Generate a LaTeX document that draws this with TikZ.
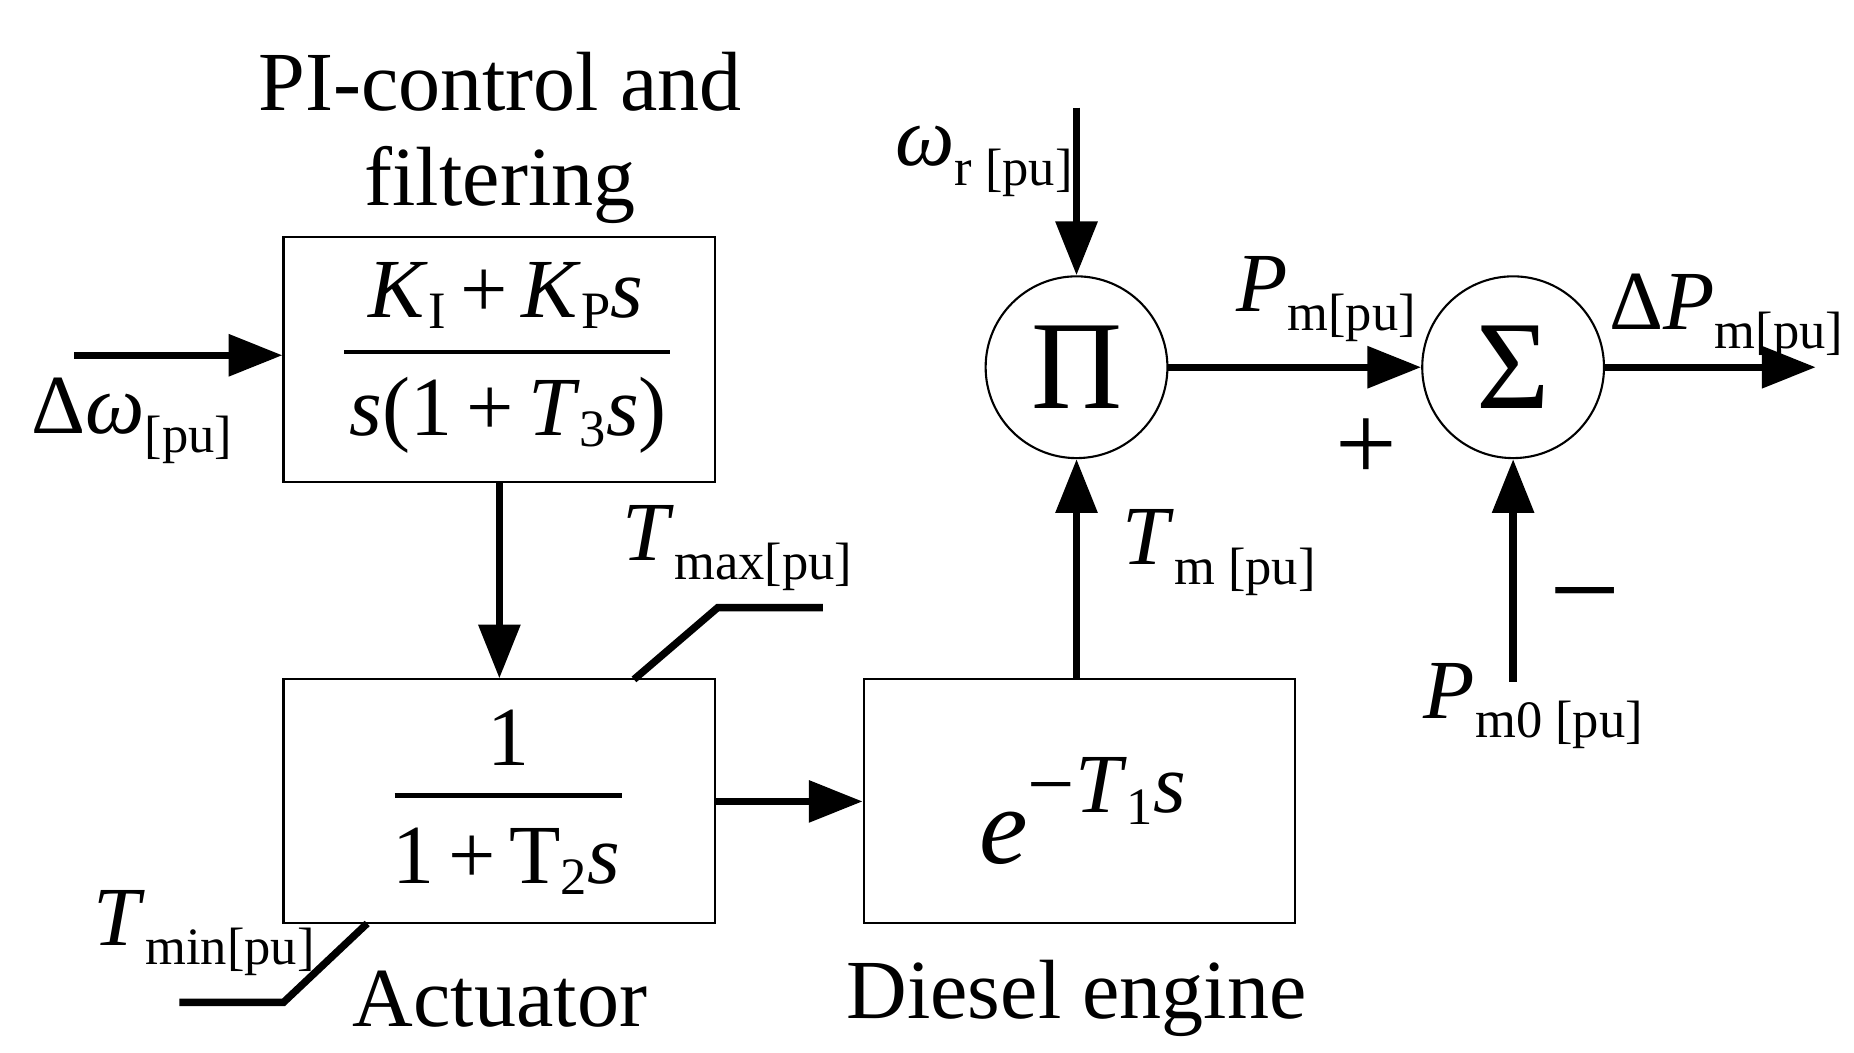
\documentclass[tikz,border=0pt]{standalone}
\usepackage{fontspec}
\setmainfont{Liberation Serif}
\usetikzlibrary{arrows.meta}
\newcommand{\bigf}{\fontsize{40}{46}\selectfont}
\newcommand{\smf}{\fontsize{25}{30}\selectfont}
\newcommand{\ital}[1]{\textit{#1}}
\begin{document}
\begin{tikzpicture}[x=0.02cm,y=-0.02cm,
  box/.style={draw,line width=1pt},
  circ/.style={draw,circle,line width=1pt,minimum size=3.04cm,inner sep=0pt},
  sig/.style={line width=3.5pt,-{Triangle[length=0.9cm,width=0.68cm]}},
  lim/.style={line width=3.5pt},
  lbl/.style={inner sep=0pt,font=\bigf}]
\useasboundingbox (0,0) rectangle (1550,880);
\node[box,minimum width=7.22cm,minimum height=4.1cm] (pi) at (417.5,300.5) {};
\node[box,minimum width=7.22cm,minimum height=4.08cm] (act) at (417.5,670) {};
\node[box,minimum width=7.22cm,minimum height=4.08cm] (eng) at (902.5,670) {};
\node[circ] (prod) at (900,307) {\fontsize{60}{60}\selectfont Π};
\node[circ] (sum) at (1265,307) {\fontsize{60}{60}\selectfont Σ};
% box contents
\node[lbl] (f1n) at (423,247) {\ital{K}\raisebox{-0.3ex}{\smf I}\,+\,\ital{K}\raisebox{-0.3ex}{\smf P}\ital{s}};
\draw[line width=2pt] (288,294) -- (560,294);
\node[lbl] (f1d) at (425,347) {\ital{s}(1\,+\,\ital{T}\raisebox{-0.3ex}{\smf 3}\ital{s})};
\node[lbl] (f2n) at (425,617) {1};
\draw[line width=2pt] (330,665) -- (520,665);
\node[lbl] (f2d) at (423,720) {1\,+\,T\raisebox{-0.3ex}{\smf 2}\ital{s}};
\node[lbl] (e) at (905,678) {\fontsize{52}{52}\selectfont\ital{e}\raisebox{1.0ex}{\bigf −\ital{T}\raisebox{-0.3ex}{\smf 1}\ital{s}}};
% titles
\node[lbl] (t1) at (418,68) {PI-control and};
\node[lbl] (t2) at (418,155) {filtering};
\node[lbl] (t3) at (418,835) {Actuator};
\node[lbl] (t4) at (900,835) {Diesel engine};
% coordinates
\coordinate (in) at (62,297);
\coordinate (wr) at (900,90);
\coordinate (pm0) at (1265,570);
\coordinate (out) at (1518,307);
% signals
\draw[sig] (in) -- (pi.west |- in);
\draw[sig] (pi.south) -- (act.north);
\draw[sig] (act.east) -- (eng.west);
\draw[sig] (eng.north -| prod) -- (prod.south);
\draw[sig] (wr) -- (prod.north);
\draw[sig] (prod.east) -- (sum.west);
\draw[sig] (pm0) -- (sum.south);
\draw[sig] (sum.east) -- (out);
% limiters
\coordinate (mx1) at (530,568); \coordinate (mx2) at (600,508); \coordinate (mx3) at (688,508);
\draw[lim] (mx1) -- (mx2) -- (mx3);
\coordinate (mn1) at (150,838); \coordinate (mn2) at (237,838); \coordinate (mn3) at (307,772);
\draw[lim] (mn1) -- (mn2) -- (mn3);
% labels
\node[lbl,anchor=west] (l1) at (26,352) {Δ\ital{ω}\raisebox{-0.5ex}{\smf[pu]}};
\node[lbl,anchor=west] (l2) at (748,135) {\ital{ω}\raisebox{-0.5ex}{\smf r [pu]}};
\node[lbl,anchor=west] (l3) at (1033,250) {\ital{P}\raisebox{-0.5ex}{\smf m[pu]}};
\node[lbl,anchor=west] (l4) at (1345,265) {Δ\ital{P}\raisebox{-0.5ex}{\smf m[pu]}};
\node[lbl,anchor=west] (l5) at (938,462) {\ital{T}\raisebox{-0.5ex}{\smf m [pu]}};
\node[lbl,anchor=west] (l6) at (1190,590) {\ital{P}\raisebox{-0.5ex}{\smf m0 [pu]}};
\node[lbl,anchor=west] (l7) at (520,458) {\ital{T}\raisebox{-0.5ex}{\smf max[pu]}};
\node[lbl,anchor=west] (l8) at (78,780) {\ital{T}\raisebox{-0.5ex}{\smf min[pu]}};
\node[lbl,font=\fontsize{52}{52}\selectfont] (plus) at (1142,376) {+};
\node[lbl,font=\fontsize{60}{60}\selectfont] (minus) at (1325,510) {−};
\end{tikzpicture}
\end{document}
